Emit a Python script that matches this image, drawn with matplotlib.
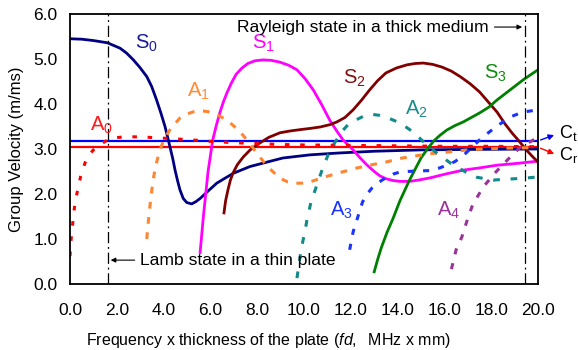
import matplotlib
matplotlib.use("Agg")
import matplotlib.pyplot as plt

plt.rcParams['font.family'] = ['Liberation Sans', 'DejaVu Sans']
plt.rcParams['mathtext.fontset'] = 'custom'
plt.rcParams['mathtext.rm'] = 'Liberation Sans'
plt.rcParams['mathtext.it'] = 'Liberation Sans:italic'
plt.rcParams['mathtext.default'] = 'regular'

# symmetric modes (fd in MHz x mm, group velocity in m/ms)
s0_x = [0, 0.5, 1.0, 1.6, 2.14, 2.42, 2.71, 2.99, 3.28, 3.49, 3.70, 3.89, 4.06, 4.17, 4.27, 4.39, 4.49, 4.59,
        4.70, 4.84, 4.99, 5.20, 5.38, 5.56, 5.91, 6.27, 6.62, 6.98, 7.69, 8.5, 9.1, 10.26, 11.45, 13, 15, 17, 20]
s0_y = [5.45, 5.44, 5.41, 5.36, 5.24, 5.13, 4.98, 4.81, 4.61, 4.39, 4.09, 3.79, 3.50, 3.27, 3.05, 2.79, 2.53, 2.31,
        2.09, 1.90, 1.81, 1.78, 1.83, 1.90, 2.07, 2.24, 2.35, 2.46, 2.61, 2.72, 2.8, 2.87, 2.91, 2.95, 2.98, 2.99, 3.0]
s1_x = [5.56, 5.7, 5.9, 6.1, 6.25, 6.4, 6.55, 6.7, 6.9, 7.1, 7.35, 7.6, 7.9, 8.25, 8.6, 8.97, 9.35, 9.7, 10.05,
        10.4, 10.75, 11.1, 11.4, 11.67, 12.1, 12.4, 12.7, 13.0, 13.25, 13.5, 13.8, 14.1, 14.5, 14.9, 15.4, 16.1,
        16.8, 17.5, 18.25, 19.1, 20]
s1_y = [0.7, 1.5, 2.5, 3.2, 3.52, 3.8, 4.04, 4.24, 4.47, 4.66, 4.8, 4.9, 4.96, 4.98, 4.97, 4.93, 4.86, 4.76, 4.56,
        4.31, 3.99, 3.64, 3.4, 3.2, 2.98, 2.8, 2.64, 2.5, 2.4, 2.34, 2.3, 2.28, 2.28, 2.31, 2.36, 2.45,
        2.53, 2.58, 2.64, 2.68, 2.73]
s2_x = [6.58, 6.65, 6.75, 6.85, 6.97, 7.15, 7.4, 7.7, 8.1, 8.5, 8.97, 9.4, 9.83, 10.3, 10.7, 11.1, 11.4, 11.75,
        12.1, 12.45, 12.8, 13.15, 13.5, 13.95, 14.4, 14.75, 15.1, 15.5, 15.9, 16.3, 16.7, 17.1, 17.5, 17.8,
        18.25, 18.6, 18.9, 19.15, 19.5, 19.75, 20]
s2_y = [1.58, 1.85, 2.09, 2.3, 2.47, 2.65, 2.82, 2.98, 3.13, 3.26, 3.36, 3.4, 3.43, 3.46, 3.49, 3.54, 3.6, 3.7,
        3.87, 4.08, 4.31, 4.52, 4.69, 4.8, 4.87, 4.9, 4.91, 4.88, 4.82, 4.73, 4.6, 4.45, 4.27, 4.09,
        3.82, 3.55, 3.35, 3.2, 2.98, 2.84, 2.71]
s3_x = [13.0, 13.15, 13.3, 13.55, 13.8, 14.1, 14.5, 15.0, 15.3, 15.55, 15.8, 16.1, 16.45, 16.8, 17.5, 17.9,
        18.25, 18.9, 19.4, 20]
s3_y = [0.27, 0.55, 0.8, 1.15, 1.45, 1.85, 2.3, 2.8, 3.02, 3.18, 3.3, 3.42, 3.52, 3.6, 3.8, 3.93,
        4.09, 4.35, 4.55, 4.76]

# antisymmetric modes
a0_x = [0.0, 0.05, 0.13, 0.2, 0.3, 0.45, 0.64, 0.8, 1.0, 1.3, 1.6, 1.95, 2.3, 3.0, 4.0, 5.0, 6.0, 7.0, 8.0,
        9.0, 10, 12, 14, 16, 18, 20]
a0_y = [0.62, 1.0, 1.42, 1.75, 2.02, 2.38, 2.69, 2.86, 2.98, 3.1, 3.2, 3.25, 3.27, 3.27, 3.24, 3.21, 3.17,
        3.14, 3.12, 3.1, 3.09, 3.08, 3.07, 3.06, 3.06, 3.05]
a1_x = [3.28, 3.35, 3.45, 3.55, 3.65, 3.8, 4.0, 4.3, 4.7, 5.0, 5.3, 5.6, 5.9, 6.2, 6.5, 6.85, 7.2, 7.6, 8.03,
        8.46, 8.97, 9.3, 9.6, 9.9, 10.26, 10.9, 11.5, 12.2, 12.8, 13.5, 14.2, 14.8, 15.5, 16.1, 17.2, 18.6, 20]
a1_y = [1.0, 1.4, 1.9, 2.3, 2.6, 2.9, 3.2, 3.45, 3.69, 3.78, 3.83, 3.85, 3.83, 3.78, 3.7, 3.58, 3.42, 3.18,
        2.87, 2.6, 2.35, 2.27, 2.24, 2.24, 2.27, 2.38, 2.47, 2.57, 2.64, 2.71, 2.8, 2.85, 2.9, 2.93, 2.99, 3.02, 3.03]
a2_x = [9.7, 9.8, 9.9, 10.05, 10.15, 10.3, 10.55, 10.77, 11.03, 11.3, 11.67, 11.9, 12.2, 12.55, 12.9, 13.2,
        13.5, 14.1, 14.66, 15.25, 15.7, 16.25, 16.9, 17.4, 18.1, 18.7, 19.4, 20]
a2_y = [0.13, 0.5, 0.82, 1.2, 1.49, 1.82, 2.2, 2.53, 2.87, 3.13, 3.42, 3.55, 3.64, 3.73, 3.77, 3.75,
        3.71, 3.58, 3.38, 3.09, 2.9, 2.69, 2.49, 2.37, 2.31, 2.33, 2.35, 2.38]
a3_x = [11.95, 12.1, 12.3, 12.5, 12.7, 12.9, 13.2, 13.46, 13.8, 14.1, 14.75, 15.4, 15.8, 16.1, 16.45, 16.8,
        17.2, 17.6, 18.2, 18.8, 19.35, 20]
a3_y = [0.76, 1.16, 1.49, 1.82, 2.0, 2.13, 2.26, 2.35, 2.44, 2.49, 2.51, 2.52, 2.58, 2.64, 2.72, 2.85,
        3.05, 3.25, 3.49, 3.71, 3.82, 3.87]
a4_x = [16.3, 16.5, 16.75, 16.95, 17.2, 17.65, 18.2, 18.7, 19.2, 19.8, 20]
a4_y = [0.33, 0.76, 1.05, 1.38, 1.75, 2.15, 2.49, 2.76, 3.02, 3.2, 3.25]

ct = 3.18
cr = 3.04
lamb_fd = 1.62
rayleigh_fd = 19.44

fig = plt.figure(figsize=(5.78, 3.5), dpi=100)
ax = fig.add_axes([0.1211, 0.1886, 0.8097, 0.7714])

ax.plot([0, 20], [ct, ct], color='#0000FF', lw=1.6)
ax.plot([0, 20], [cr, cr], color='#FF0000', lw=1.6)

ax.plot(s0_x, s0_y, color='#000080', lw=2)
ax.plot(s1_x, s1_y, color='#FF00FF', lw=2)
ax.plot(s2_x, s2_y, color='#800000', lw=2)
ax.plot(s3_x, s3_y, color='#008000', lw=2)

ax.plot(a0_x, a0_y, color='#FF0000', lw=2.2, ls=(0, (1.5, 3.5)))
ax.plot(a1_x, a1_y, color='#FF8533', lw=2.2, ls=(0, (2.2, 2.8)))
ax.plot(a2_x, a2_y, color='#138A8A', lw=2.2, ls=(0, (2.2, 3.5)))
ax.plot(a3_x, a3_y, color='#1A33FF', lw=2.2, ls=(0, (2, 3)))
ax.plot(a4_x, a4_y, color='#993399', lw=2.2, ls=(0, (2, 3)))

# Lamb / Rayleigh limits
ax.plot([lamb_fd, lamb_fd], [0, 6], color='black', lw=0.9, ls=(0, (9, 3, 1.5, 3)))
ax.plot([rayleigh_fd, rayleigh_fd], [0, 6], color='black', lw=0.9, ls=(0, (9, 3, 1.5, 3)))

lab = dict(fontsize=14.5, ha='left', va='center')
ax.text(2.78, 5.35, r'S$_0$', color='#1A1A99', **lab)
ax.text(7.78, 5.35, r'S$_1$', color='#FF00FF', **lab)
ax.text(11.67, 4.58, r'S$_2$', color='#801010', **lab)
ax.text(17.7, 4.67, r'S$_3$', color='#108A10', **lab)
ax.text(0.85, 3.53, r'A$_0$', color='#FF1A1A', **lab)
ax.text(5.0, 4.27, r'A$_1$', color='#FF8C33', **lab)
ax.text(14.3, 3.87, r'A$_2$', color='#1A8C8C', **lab)
ax.text(11.1, 1.64, r'A$_3$', color='#1A33FF', **lab)
ax.text(15.7, 1.64, r'A$_4$', color='#993399', **lab)

ax.annotate('Rayleigh state in a thick medium', xy=(rayleigh_fd, 5.71), xytext=(17.9, 5.71),
            fontsize=12.6, ha='right', va='center',
            arrowprops=dict(arrowstyle='-|>', color='black', lw=0.8, mutation_scale=7))
ax.annotate('Lamb state in a thin plate', xy=(lamb_fd, 0.53), xytext=(3.0, 0.53),
            fontsize=12.6, ha='left', va='center',
            arrowprops=dict(arrowstyle='-|>', color='black', lw=0.8, mutation_scale=7))

# Ct / Cr callouts outside the frame
ax.annotate('', xy=(20.8, 3.33), xytext=(20, ct), annotation_clip=False,
            arrowprops=dict(arrowstyle='-|>', color='#0000FF', lw=1, mutation_scale=8))
ax.annotate('', xy=(20.8, 2.87), xytext=(20, cr), annotation_clip=False,
            arrowprops=dict(arrowstyle='-|>', color='#FF0000', lw=1, mutation_scale=8))
ax.text(20.88, 3.36, r'C$_t$', fontsize=13, ha='left', va='center', clip_on=False)
ax.text(20.88, 2.87, r'C$_r$', fontsize=13, ha='left', va='center', clip_on=False)

ax.set_xlim(0, 20)
ax.set_ylim(0, 6)
ax.set_xticks([0, 2, 4, 6, 8, 10, 12, 14, 16, 18, 20])
ax.set_xticklabels(['0.0', '2.0', '4.0', '6.0', '8.0', '10.0', '12.0', '14.0', '16.0', '18.0', '20.0'])
ax.set_yticks([0, 1, 2, 3, 4, 5, 6])
ax.set_yticklabels(['0.0', '1.0', '2.0', '3.0', '4.0', '5.0', '6.0'])
ax.tick_params(axis='x', length=0, pad=14, labelsize=12.5)
ax.tick_params(axis='y', length=0, pad=9, labelsize=12.5)
for sp in ax.spines.values():
    sp.set_linewidth(1.3)

ax.set_xlabel(r'Frequency x thickness of the plate ($\it{fd,}$  MHz x mm)', fontsize=11.5)
ax.xaxis.set_label_coords(0.423, -0.175)
ax.set_ylabel('Group Velocity (m/ms)', fontsize=12)
ax.yaxis.set_label_coords(-0.098, 0.5)

plt.savefig('out.png', dpi=100)
